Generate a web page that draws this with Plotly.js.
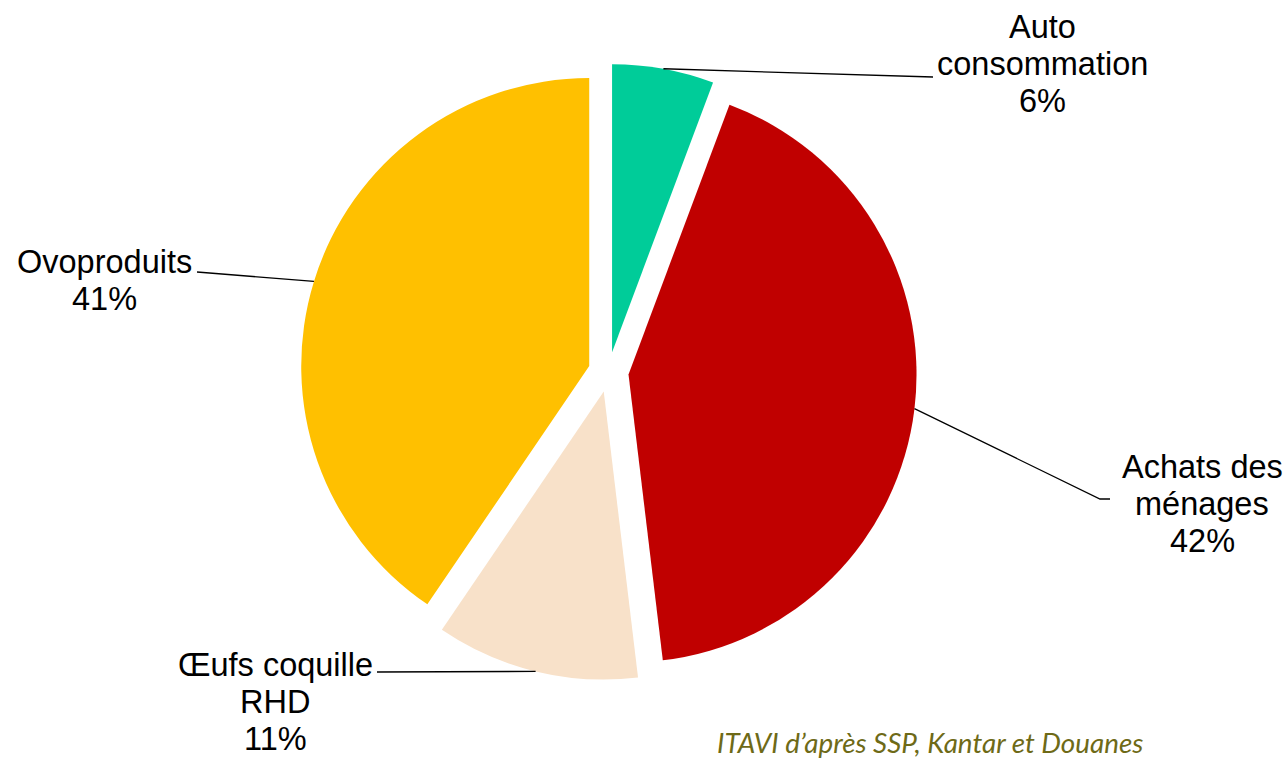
<!DOCTYPE html>
<html>
<head>
<meta charset="utf-8">
<script src="https://cdn.plot.ly/plotly-3.0.1.min.js"></script>
<style>html,body{margin:0;padding:0;background:#fff;}#chart{width:1287px;height:765px;}</style>
</head>
<body>
<div id="chart"></div>
<script>
// ---- data ----
const categories = ["Auto<br>consommation", "Achats des<br>ménages", "Œufs coquille<br>RHD", "Ovoproduits"];
const values = [5.7, 42.4, 11.4, 40.5];
const colors = ["#00CC99", "#C00000", "#F8E1C9", "#FFC000"];
const sourceText = "ITAVI d’après SSP, Kantar et Douanes";

// ---- layout constants (pixels) ----
const W = 1287, H = 765;
const CX = 608.5, CY = 372, R = 288, PULL = 0.07;
const BOX = R * (1 + PULL);            // half size of the pie box
const FONT = 32.5, LINE = 37;
// label anchor: [center x, first baseline y]
const labelPos = [[1042, 38.5], [1202, 478], [275, 676], [104, 273]];
// leader line end points (and optional elbow)
const leaderEnd = [[[933, 77]], [[1100, 499], [1110, 499]], [[377, 672]], [[197, 272]]];

const px = x => x / W;
const py = y => 1 - y / H;

const total = values.reduce((a, b) => a + b, 0);

const trace = {
  type: "pie",
  values: values,
  labels: categories,
  marker: {colors: colors, line: {width: 0}},
  sort: false,
  direction: "clockwise",
  rotation: 0,
  pull: values.map(() => PULL),
  textinfo: "none",
  hoverinfo: "none",
  showlegend: false,
  domain: {
    x: [(CX - BOX) / W, (CX + BOX) / W],
    y: [(H - (CY + BOX)) / H, (H - (CY - BOX)) / H]
  }
};

const annotations = [];
const shapes = [];
let cum = 0;
values.forEach((v, i) => {
  const theta = 2 * Math.PI * (cum + v / 2) / total;
  cum += v;
  const sx = CX + BOX * Math.sin(theta);
  const sy = CY - BOX * Math.cos(theta);
  let path = "M " + px(sx) + " " + py(sy);
  leaderEnd[i].forEach(p => { path += " L " + px(p[0]) + " " + py(p[1]); });
  shapes.push({type: "path", xref: "paper", yref: "paper", path: path,
               line: {color: "#000000", width: 1.3}});
  const lines = categories[i].split("<br>").concat([Math.round(100 * v / total) + "%"]);
  lines.forEach((t, j) => {
    annotations.push({
      text: t, showarrow: false, xref: "paper", yref: "paper",
      x: px(labelPos[i][0]), y: py(labelPos[i][1] + j * LINE - 0.35 * FONT),
      xanchor: "center", yanchor: "middle",
      font: {family: "Liberation Sans, Arial, sans-serif", size: FONT, color: "#000000"}
    });
  });
});

annotations.push({
  text: "<i>" + sourceText + "</i>", showarrow: false, xref: "paper", yref: "paper",
  x: px(715), y: py(753 - 0.38 * 27.8), xanchor: "left", yanchor: "middle",
  font: {family: "Lato, sans-serif", size: 27.8, color: "#6E6A17"}
});

const layout = {
  width: W, height: H,
  margin: {l: 0, r: 0, t: 0, b: 0},
  paper_bgcolor: "#ffffff",
  plot_bgcolor: "#ffffff",
  showlegend: false,
  annotations: annotations,
  shapes: shapes
};

Plotly.newPlot("chart", [trace], layout, {displayModeBar: false, staticPlot: true});
</script>
</body>
</html>
